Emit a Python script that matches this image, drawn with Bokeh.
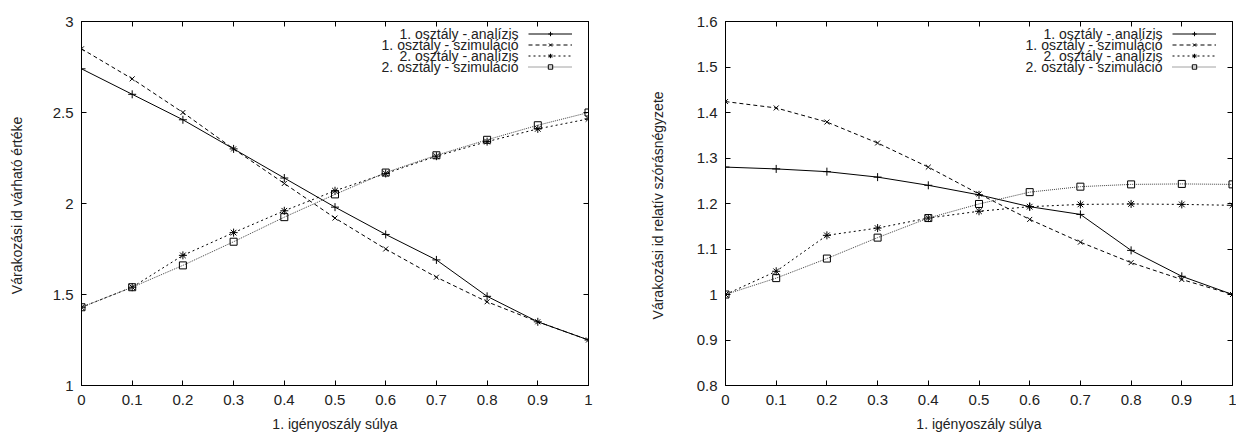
from bokeh.plotting import figure
from bokeh.models import (Range1d, FixedTicker, LinearAxis, Legend, LegendItem, Label)
from bokeh.layouts import row
from bokeh.embed import file_html
from bokeh.resources import INLINE

# ---------------- data ----------------
x_vals = [0, 0.1, 0.2, 0.3, 0.4, 0.5, 0.6, 0.7, 0.8, 0.9, 1.0]

series_names = ["1. osztály - analízis", "1. osztály - szimuláció",
                "2. osztály - analízis", "2. osztály - szimuláció"]

left_ana1 = [2.74, 2.60, 2.46, 2.30, 2.14, 1.98, 1.83, 1.69, 1.49, 1.35, 1.25]
left_sim1 = [2.85, 2.685, 2.50, 2.30, 2.11, 1.92, 1.75, 1.595, 1.46, 1.35, 1.25]
left_ana2 = [1.43, 1.54, 1.715, 1.84, 1.96, 2.07, 2.165, 2.26, 2.34, 2.41, 2.465]
left_sim2 = [1.43, 1.54, 1.66, 1.79, 1.925, 2.05, 2.17, 2.265, 2.35, 2.43, 2.50]

right_ana1 = [1.28, 1.276, 1.27, 1.258, 1.24, 1.219, 1.193, 1.176, 1.097, 1.04, 1.0]
right_sim1 = [1.424, 1.41, 1.379, 1.333, 1.28, 1.221, 1.165, 1.115, 1.07, 1.033, 1.0]
right_ana2 = [1.0, 1.051, 1.13, 1.146, 1.168, 1.183, 1.193, 1.198, 1.199, 1.198, 1.196]
right_sim2 = [1.0, 1.036, 1.079, 1.125, 1.168, 1.199, 1.225, 1.237, 1.242, 1.243, 1.242]

x_ticks = [0, 0.1, 0.2, 0.3, 0.4, 0.5, 0.6, 0.7, 0.8, 0.9, 1.0]
x_tick_labels = ["0", "0.1", "0.2", "0.3", "0.4", "0.5", "0.6", "0.7", "0.8", "0.9", "1"]
left_y_ticks = [1.0, 1.5, 2.0, 2.5, 3.0]
left_y_tick_labels = ["1", "1.5", "2", "2.5", "3"]
right_y_ticks = [0.8, 0.9, 1.0, 1.1, 1.2, 1.3, 1.4, 1.5, 1.6]
right_y_tick_labels = ["0.8", "0.9", "1", "1.1", "1.2", "1.3", "1.4", "1.5", "1.6"]

x_title = "1. igényoszály súlya"
left_y_title = "Várakozási id  várható értéke"
right_y_title = "Várakozási id  relatív szórásnégyzete"

FONT = "Liberation Sans"

styles = [
    dict(dash="solid", marker="cross", size=8, color="black"),
    dict(dash="4 3", marker="x", size=7, color="black"),
    dict(dash="2 3", marker="asterisk", size=8, color="black"),
    dict(dash="1 1", marker="square", size=7, color="#444444"),
]


def make_fig(series, y_range, y_ticks, y_labels, y_title, border_left, border_right, title_standoff):
    p = figure(frame_width=507, frame_height=364,
               min_border_left=border_left, min_border_right=border_right,
               min_border_top=21, min_border_bottom=41,
               x_range=Range1d(0, 1), y_range=Range1d(*y_range),
               output_backend="svg", toolbar_location=None,
               x_axis_label=x_title, y_axis_label=y_title)
    p.grid.visible = False
    p.outline_line_color = "black"
    p.outline_line_width = 1
    p.background_fill_color = "white"
    p.border_fill_color = "white"

    p.xaxis.ticker = FixedTicker(ticks=x_ticks)
    p.xaxis.major_label_overrides = dict(zip(x_ticks, x_tick_labels))
    p.yaxis.ticker = FixedTicker(ticks=y_ticks)
    p.yaxis.major_label_overrides = dict(zip(y_ticks, y_labels))

    for ax in (p.xaxis[0], p.yaxis[0]):
        ax.major_tick_in = 5
        ax.major_tick_out = 0
        ax.minor_tick_in = 0
        ax.minor_tick_out = 0
        ax.axis_line_color = "black"
        ax.major_tick_line_color = "black"
        ax.major_label_text_font = FONT
        ax.major_label_text_font_size = "15px"
        ax.major_label_text_color = "#222222"
        ax.axis_label_text_font = FONT
        ax.axis_label_text_font_size = "14px"
        ax.axis_label_text_font_style = "normal"
        ax.axis_label_text_color = "#222222"
    p.xaxis.major_label_standoff = 9
    p.xaxis.axis_label_standoff = 8
    p.yaxis.major_label_standoff = 8
    p.yaxis.axis_label_standoff = title_standoff

    # mirrored ticks (top/right), labels not drawn
    top = LinearAxis(ticker=FixedTicker(ticks=x_ticks))
    right = LinearAxis(ticker=FixedTicker(ticks=y_ticks))
    for ax in (top, right):
        ax.major_tick_in = 5
        ax.major_tick_out = 0
        ax.minor_tick_in = 0
        ax.minor_tick_out = 0
        ax.major_label_text_font_size = "1px"
        ax.major_label_text_color = None
        ax.major_label_standoff = 0
        ax.axis_line_color = "black"
    p.add_layout(top, "above")
    p.add_layout(right, "right")

    items = []
    for ys, st in zip(series, styles):
        r_line = p.line(x_vals, ys, line_color=st["color"], line_width=1, line_dash=st["dash"])
        r_pt = p.scatter(x_vals, ys, marker=st["marker"], size=st["size"],
                         line_color="black", fill_color=None, line_width=1)
        items.append(LegendItem(label=" ", renderers=[r_line, r_pt]))

    legend = Legend(items=items, location=(447, 313.5), orientation="vertical",
                    padding=0, spacing=0, margin=0, glyph_width=44, glyph_height=11,
                    label_height=11, label_width=0, label_standoff=0,
                    label_text_font_size="1px", label_text_color=None,
                    background_fill_alpha=0, border_line_alpha=0)
    p.add_layout(legend, "center")

    row_y = [352, 341, 330, 319]
    for name, yy in zip(series_names, row_y):
        p.add_layout(Label(x=437, y=yy, x_units="screen", y_units="screen", text=name,
                           text_align="right", text_baseline="middle",
                           text_font=FONT, text_font_size="14px", text_color="#222222"))
    return p


p1 = make_fig([left_ana1, left_sim1, left_ana2, left_sim2], (1, 3),
              left_y_ticks, left_y_tick_labels, left_y_title, 81, 40, 25)
p2 = make_fig([right_ana1, right_sim1, right_ana2, right_sim2], (0.8, 1.6),
              right_y_ticks, right_y_tick_labels, right_y_title, 97, 4, 28)

layout = row(p1, p2)
open("out.html", "w").write(file_html(layout, INLINE))
